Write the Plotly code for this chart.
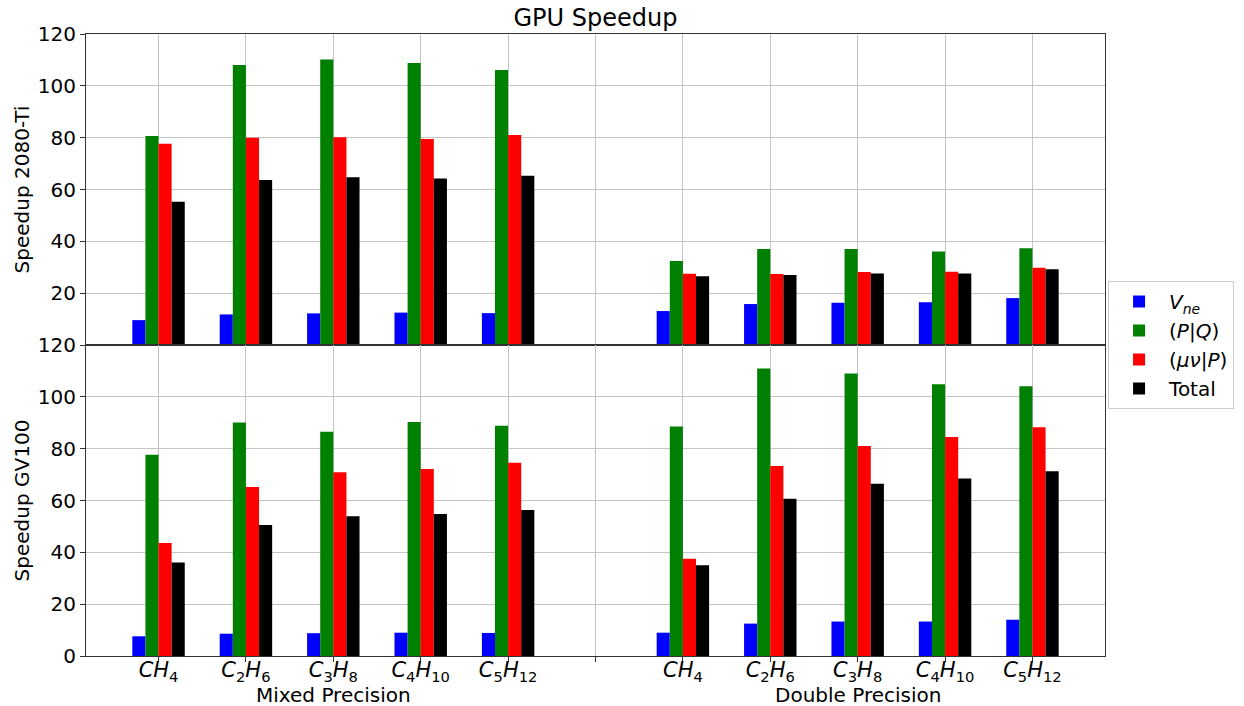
import plotly.graph_objects as go
from plotly.subplots import make_subplots

# Category positions: 0-4 mixed precision, 6-10 double precision
categories = ["<i>CH</i><sub>4</sub>", "<i>C</i><sub>2</sub><i>H</i><sub>6</sub>",
              "<i>C</i><sub>3</sub><i>H</i><sub>8</sub>", "<i>C</i><sub>4</sub><i>H</i><sub>10</sub>",
              "<i>C</i><sub>5</sub><i>H</i><sub>12</sub>"]
x_pos = [0, 1, 2, 3, 4, 6, 7, 8, 9, 10]
tick_vals = [0, 1, 2, 3, 4, 5, 6, 7, 8, 9, 10]
tick_text = categories + [""] + categories

series_names = ["<i>V</i><sub><i>ne</i></sub>", "(<i>P</i>|<i>Q</i>)",
                "(<i>μν</i>|<i>P</i>)", "Total"]
colors = ["blue", "green", "red", "black"]

# Speedup on 2080-Ti (mixed x5, then double x5)
vne_2080 = [9.6, 11.8, 12.2, 12.5, 12.3, 13.1, 15.8, 16.3, 16.5, 18.1]
pq_2080 = [80.6, 108.0, 110.2, 108.8, 106.1, 32.4, 37.0, 37.0, 36.1, 37.3]
munup_2080 = [77.7, 80.0, 80.2, 79.5, 81.0, 27.5, 27.4, 28.2, 28.3, 29.8]
total_2080 = [55.3, 63.7, 64.7, 64.2, 65.3, 26.5, 27.0, 27.6, 27.6, 29.2]

# Speedup on GV100
vne_gv100 = [7.6, 8.6, 8.8, 9.0, 8.9, 9.0, 12.5, 13.3, 13.3, 14.0]
pq_gv100 = [77.7, 90.1, 86.5, 90.3, 88.8, 88.6, 110.9, 109.0, 104.9, 104.1]
munup_gv100 = [43.6, 65.2, 70.9, 72.2, 74.6, 37.5, 73.3, 81.0, 84.5, 88.3]
total_gv100 = [36.1, 50.5, 53.9, 54.8, 56.3, 35.0, 60.7, 66.5, 68.5, 71.3]

top_series = [vne_2080, pq_2080, munup_2080, total_2080]
bottom_series = [vne_gv100, pq_gv100, munup_gv100, total_gv100]

FONT = "DejaVu Sans"

fig = make_subplots(rows=2, cols=1, shared_xaxes=True, vertical_spacing=0)

for i, (name, col) in enumerate(zip(series_names, colors)):
    fig.add_trace(go.Bar(x=x_pos, y=top_series[i], name=name, marker_color=col,
                         marker_line_width=0, legendgroup=name, showlegend=True),
                  row=1, col=1)
    fig.add_trace(go.Bar(x=x_pos, y=bottom_series[i], name=name, marker_color=col,
                         marker_line_width=0, legendgroup=name, showlegend=False),
                  row=2, col=1)

axis_common = dict(showline=True, linecolor="#333333", linewidth=1, mirror=True,
                   showgrid=True, gridcolor="#c4c4c4", gridwidth=1,
                   ticks="outside", ticklen=5, tickcolor="#333333",
                   tickfont=dict(family=FONT, size=20, color="black"), zeroline=False)

fig.update_xaxes(**axis_common, range=[-0.83, 10.83], tickvals=tick_vals, ticktext=tick_text,
                 ticklabelstandoff=-10)
fig.update_xaxes(showticklabels=False, row=1, col=1)
fig.update_xaxes(tickfont=dict(family=FONT, size=21, color="black"), row=2, col=1)

fig.update_yaxes(**axis_common)
fig.update_yaxes(range=[0, 120], tickvals=[20, 40, 60, 80, 100, 120],
                 title=dict(text="Speedup 2080-Ti", font=dict(family=FONT, size=20, color="black"),
                            standoff=2), row=1, col=1)
fig.update_yaxes(range=[0, 120], tickvals=[0, 20, 40, 60, 80, 100, 120],
                 title=dict(text="Speedup GV100", font=dict(family=FONT, size=20, color="black"),
                            standoff=2), row=2, col=1)

fig.update_layout(
    width=1244, height=706,
    margin=dict(l=86, r=139, t=34, b=50, autoexpand=False),
    paper_bgcolor="white", plot_bgcolor="white",
    barmode="group", bargap=0.4, bargroupgap=0,
    font=dict(family=FONT, size=20, color="black"),
    title=dict(text="GPU Speedup", x=0.5, xref="paper", xanchor="center", y=0.975, yanchor="middle",
               font=dict(family=FONT, size=24, color="black")),
    legend=dict(x=1.003, y=0.5, xanchor="left", yanchor="middle", itemwidth=50,
                bgcolor="white", bordercolor="#cccccc", borderwidth=1,
                font=dict(family=FONT, size=20, color="black"), tracegroupgap=0),
    annotations=[
        dict(text="Mixed Precision", x=2, y=-0.063, xref="x2", yref="paper",
             showarrow=False, xanchor="center", yanchor="middle",
             font=dict(family=FONT, size=20, color="black")),
        dict(text="Double Precision", x=8, y=-0.063, xref="x2", yref="paper",
             showarrow=False, xanchor="center", yanchor="middle",
             font=dict(family=FONT, size=20, color="black")),
    ],
)

fig.write_html("out.html", config={"displayModeBar": False},
               post_script="document.body.style.margin='0px';document.body.style.padding='0px';")
